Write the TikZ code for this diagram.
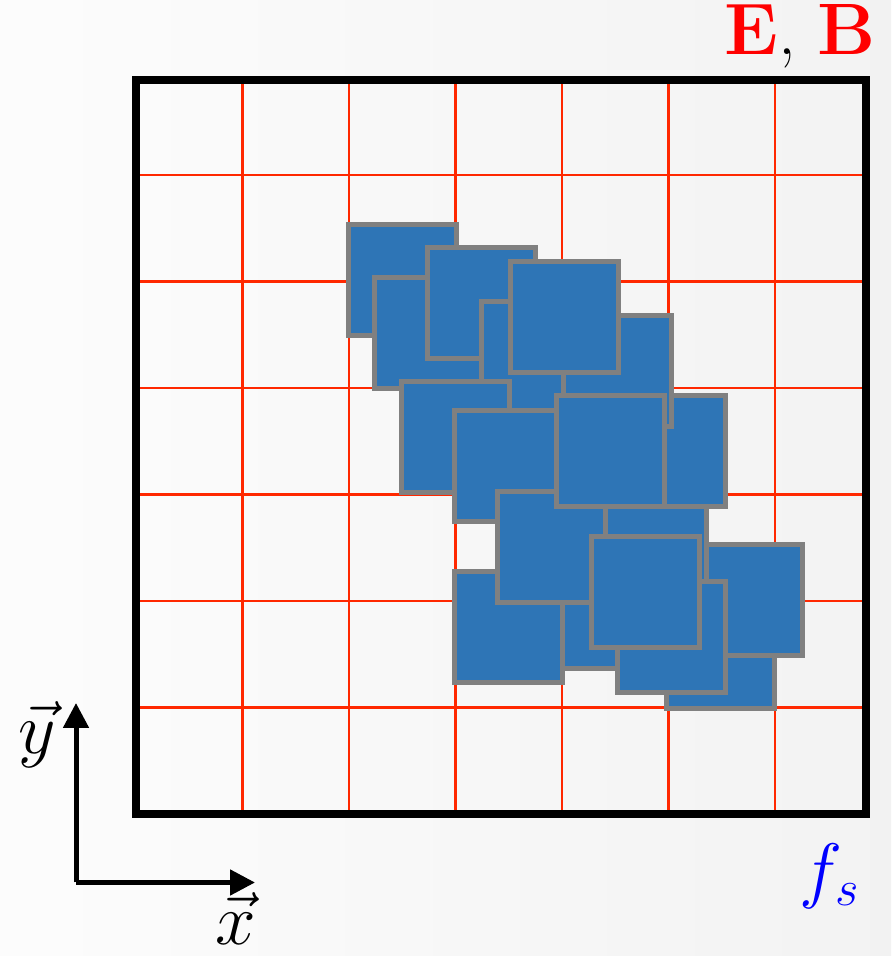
\documentclass[tikz,border=0pt]{standalone}
\usetikzlibrary{arrows.meta}
\definecolor{cellblue}{RGB}{46,117,182}
\definecolor{gridred}{RGB}{255,40,0}
\definecolor{fsblue}{RGB}{0,0,255}
\begin{document}
\begin{tikzpicture}[
        particle/.style={fill=cellblue, draw=gray, line width=0.05cm},
        meshline/.style={gridred, line width=0.025cm},
        axis/.style={line width=0.05cm, -{Triangle[length=0.25cm,width=0.25cm]}},
        lbl/.style={font=\fontsize{20}{24}\selectfont, inner sep=0pt}
    ]
        \useasboundingbox (0,0) rectangle (8.91,9.56);
        \shade[left color=black!1, right color=black!5] (0,0) rectangle (8.91,9.56);

        % field mesh
        \begin{scope}
            \clip (1.36,1.42) rectangle (8.66,8.76);
            \foreach \k in {1,...,6} {
                \draw[meshline] ({1.36+\k*1.065},1.42) -- ({1.36+\k*1.065},8.76);
                \draw[meshline] (1.36,{1.42+\k*1.065}) -- (8.66,{1.42+\k*1.065});
            }
        \end{scope}

        % macro-particles, back to front
        \foreach \x/\y in {3.485/6.205, 3.745/5.675, 4.275/5.975, 4.815/5.435,
                           6.665/2.475, 6.945/3.005, 5.985/3.465, 6.175/4.495,
                           5.635/5.295, 5.105/5.835, 4.015/4.635, 4.545/4.345,
                           5.575/2.875, 4.545/2.735, 4.975/3.535, 5.565/4.495,
                           6.175/2.635, 5.915/3.085}
            \draw[particle] (\x,\y) rectangle ++(1.08,1.11);

        \draw[line width=0.08cm] (1.36,1.42) rectangle (8.66,8.76);

        % axes
        \coordinate (origin) at (0.76,0.735);
        \coordinate (xend) at (2.55,0.735);
        \coordinate (yend) at (0.76,2.53);
        \draw[axis] (origin) -- (xend);
        \draw[axis] (origin) -- (yend);
        \node[lbl] (xlabel) at (2.36,0.37) {$\vec{x}$};
        \node[lbl] (ylabel) at (0.37,2.21) {$\vec{y}$};

        \node[lbl, anchor=base east] (fields) at (8.76,9.01)
            {\textcolor{red}{$\mathbf{E}$}, \textcolor{red}{$\mathbf{B}$}};
        \node[lbl, text=fsblue] (fs) at (8.30,0.80) {$f_s$};
    \end{tikzpicture}
\end{document}
